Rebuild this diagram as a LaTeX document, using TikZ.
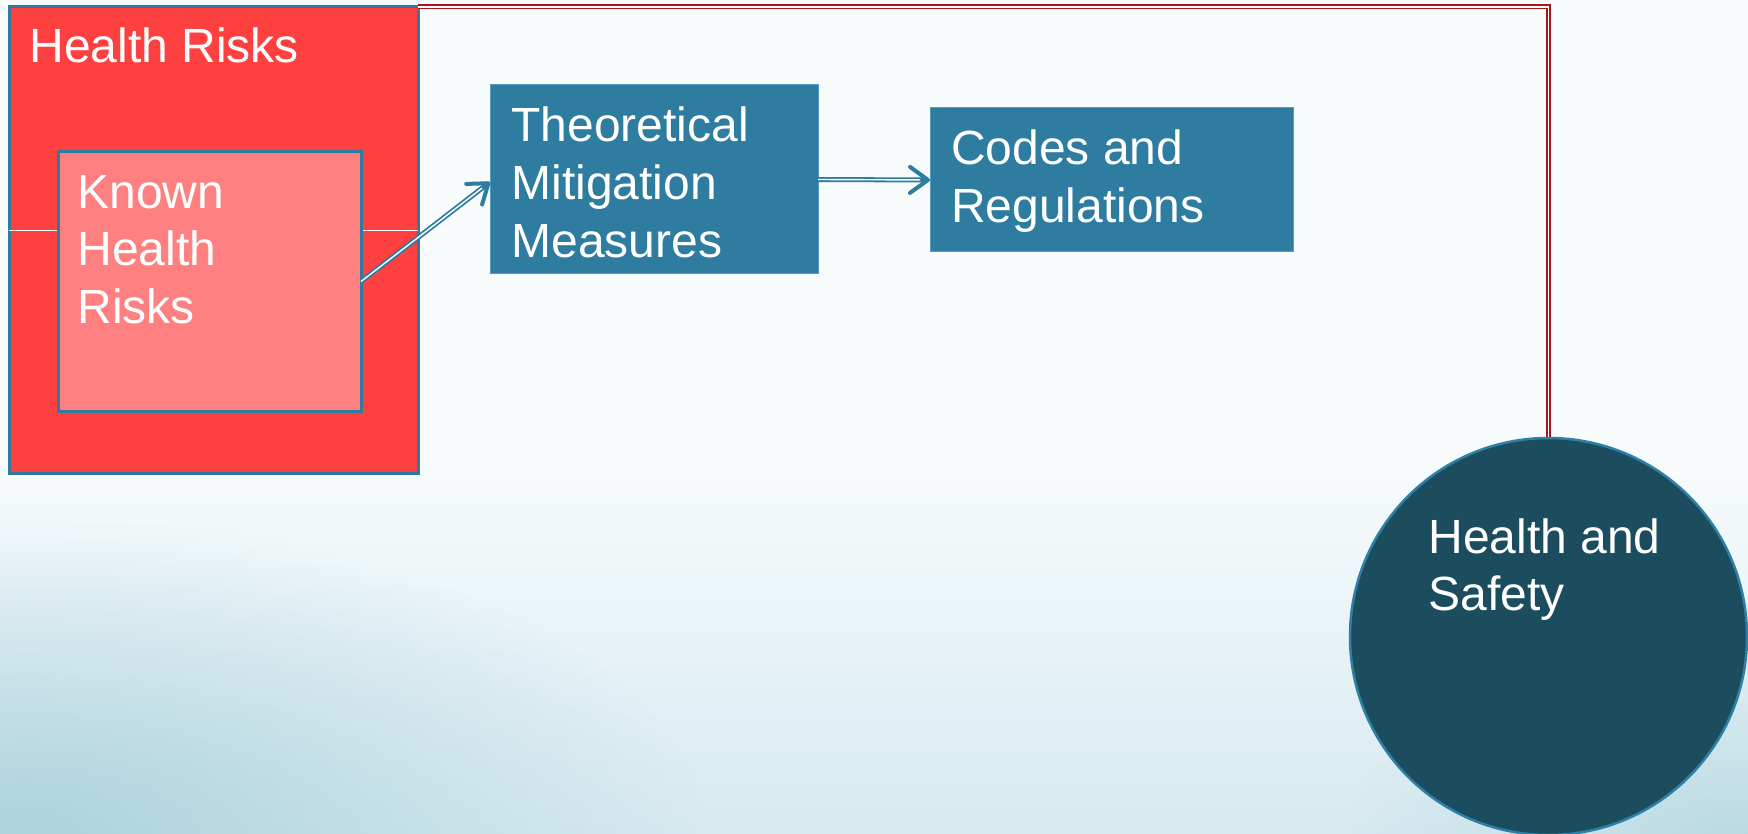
\documentclass[tikz,border=0pt]{standalone}
\usepackage{fontspec}
\setmainfont{Liberation Sans}
\usetikzlibrary{arrows.meta,fadings}
\definecolor{bgtop}{HTML}{F7FBFC}
\definecolor{bgbot}{HTML}{D6EAF0}
\definecolor{bgdeep}{HTML}{A3CDD9}
\definecolor{redfill}{HTML}{FF4040}
\definecolor{pinkfill}{HTML}{FF8080}
\definecolor{edgeteal}{HTML}{2F7BA0}
\definecolor{bluefill}{HTML}{2E7CA0}
\definecolor{blueedge}{HTML}{5A9CBC}
\definecolor{circfill}{HTML}{1B4D5E}
\definecolor{circedge}{HTML}{2F80A6}
\definecolor{linkred}{HTML}{A8161C}
\tikzfading[name=softglow, inner color=transparent!0, outer color=transparent!100]
\begin{document}
\begin{tikzpicture}[x=1pt,y=-1pt,
  boxbase/.style={rectangle, inner sep=0pt, outer sep=0pt},
  redbox/.style={boxbase, fill=redfill, draw=edgeteal, line width=3pt},
  pinkbox/.style={boxbase, fill=pinkfill, draw=edgeteal, line width=3pt},
  bluebox/.style={boxbase, fill=bluefill, draw=blueedge, line width=1pt},
  hscircle/.style={circle, inner sep=0pt, outer sep=0pt, fill=circfill, draw=circedge, line width=2.5pt},
  txt/.style={text=white, inner sep=0pt, outer sep=0pt, anchor=base west, align=left,
    font=\fontsize{48}{57.6}\selectfont},
  arrowlink/.style={draw=bluefill, line width=5pt,
    -{Straight Barb[length=18pt, width=26pt, line width=4pt, round]},
    postaction={draw=white, line width=1.4pt, -, shorten >=10pt}},
  redlink/.style={draw=linkred, line width=5pt, line join=miter,
    postaction={draw=white, line width=1.6pt}},
  whiteline/.style={draw=white, line width=1pt}]
\useasboundingbox (0,0) rectangle (1748,834);
% background
\fill[bgtop] (0,0) rectangle (1748,834);
\shade[top color=bgtop, bottom color=bgbot] (0,470) rectangle (1748,834);
\fill[bgdeep, path fading=softglow, opacity=0.8] (-650,520) rectangle (700,1140);
\fill[bgdeep, path fading=softglow, opacity=0.55] (1350,640) rectangle (2150,1030);

% nodes
\node[redbox, minimum width=409pt, minimum height=466pt] (hr) at (213.5,240) {};
\draw[whiteline] ([yshift=9pt]hr.west) -- ([yshift=9pt]hr.east);
\node[pinkbox, minimum width=303pt, minimum height=259pt] (khr) at (209.5,281.5) {};
\node[bluebox, minimum width=328pt, minimum height=189pt] (tmm) at (654,179.5) {};
\node[bluebox, minimum width=363pt, minimum height=144pt] (cr) at (1111.5,180) {};

% connectors
\draw[redlink] (hr.north east) -| (1548.5,438) coordinate (hstop);
\node[hscircle, minimum size=397pt] (hs) at (1548.5,636.5) {};
\draw[arrowlink] (khr.east) -- ([yshift=-2.5pt]tmm.west);
\draw[arrowlink] (tmm.east) -- (cr.west);

% texts (base anchor = baseline of last line)
\node[txt] (hrt) at (29.5,63) {Health Risks};
\node[txt] (khrt) at (77.5,323.2) {Known\\Health\\Risks};
\node[txt] (tmmt) at (511.5,257.2) {Theoretical\\Mitigation\\Measures};
\node[txt] (crt) at (951,222.6) {Codes and\\Regulations};
\node[txt] (hst) at (1428.5,610.6) {Health and\\Safety};
\end{tikzpicture}
\end{document}
